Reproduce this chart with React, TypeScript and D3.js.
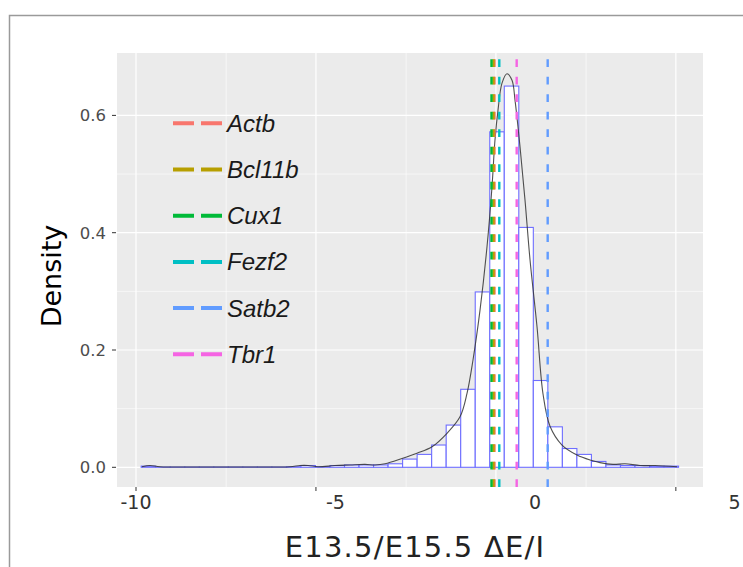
import React from 'react';
import * as d3 from 'd3';

// ---- data ----
const genes = ['Actb', 'Bcl11b', 'Cux1', 'Fezf2', 'Satb2', 'Tbr1'];
const geneColors = ['#F8766D', '#B79F00', '#00BA38', '#00BFC4', '#619CFF', '#F564E3'];
const geneValues = [-1.015, -1.04, -1.09, -0.895, 0.318, -0.459];

const binStart = -9.87;
const binWidth = 0.364;
const binDensity = [
  0.002, 0.0005, 0.0005, 0.0005, 0.0005, 0.0005, 0.0005, 0.0005, 0.0005, 0.0005,
  0.001, 0.003, 0.001, 0.003, 0.004, 0.004, 0.004,
  0.006, 0.014, 0.022, 0.038, 0.072, 0.133, 0.299, 0.572, 0.65, 0.409, 0.148,
  0.069, 0.032, 0.022, 0.01, 0.004,
  0.003, 0.003, 0.002, 0.002,
];

const densX = [
  -9.85, -9.649, -9.398, -8.396, -7.143, -6.14, -5.89, -5.689, -5.439, -5.013,
  -4.637, -4.261, -4.01, -3.759, -3.333, -2.957, -2.581, -2.206, -1.88, -1.704,
  -1.554, -1.378, -1.203, -1.078, -1.003, -0.927, -0.827, -0.702, -0.576, -0.501,
  -0.376, -0.251, -0.125, 0.05, 0.201, 0.376, 0.677, 1.053, 1.404, 1.629, 1.955,
  2.256, 2.632, 3.008, 3.559,
];
const densY = [
  0.001, 0.003, 0.001, 0.0005, 0.0005, 0.001, 0.003, 0.003, 0.001, 0.003,
  0.004, 0.005, 0.004, 0.006, 0.015, 0.024, 0.035, 0.058, 0.086, 0.126,
  0.183, 0.268, 0.376, 0.478, 0.558, 0.609, 0.655, 0.671, 0.66, 0.626,
  0.547, 0.456, 0.354, 0.24, 0.125, 0.07, 0.038, 0.021, 0.012, 0.008, 0.005,
  0.006, 0.003, 0.003, 0.001,
];

const xTickLabels = [-10, -5, 0, 5];
const xGridMajor = [-10, -5.49, -0.98, 3.53];
const xGridMinor = [-7.74, -3.23, 1.28];
const xTickMarks = [-10, -5.49, 3.53];
const yTicks = [0, 0.2, 0.4, 0.6];
const yMinor = [0.1, 0.3, 0.5];

const W = 743;
const H = 567;
const panel = { left: 117, right: 703, top: 53, bottom: 487 };

export default function App() {
  const x = d3.scaleLinear().domain([-10, 5]).range([136, 734.5]);
  const y = d3.scaleLinear().domain([0, 0.6]).range([467.3, 115.4]);

  const bins = binDensity.map((d, i) => ({
    x0: binStart + i * binWidth,
    x1: binStart + (i + 1) * binWidth,
    d,
  }));

  const line = d3
    .line<number>()
    .x((_, i) => x(densX[i]))
    .y((v) => y(v))
    .curve(d3.curveCatmullRom.alpha(0.5));

  const legendY = d3.scalePoint<string>().domain(genes).range([123.3, 354.3]);
  const axisFont = 'DejaVu Sans, Verdana, sans-serif';

  return (
    <svg
      width={W}
      height={H}
      style={{ position: 'absolute', left: 0, top: 0, background: '#fff' }}
    >
      {/* outer frame */}
      <path d={`M9.5,${H} L9.5,15.5 L${W},15.5`} fill="none" stroke="#9a9a9a" strokeWidth={1.5} />

      {/* panel */}
      <rect
        x={panel.left}
        y={panel.top}
        width={panel.right - panel.left}
        height={panel.bottom - panel.top}
        fill="#EBEBEB"
      />
      {yMinor.map((v) => (
        <line key={'ym' + v} x1={panel.left} x2={panel.right} y1={y(v)} y2={y(v)} stroke="#fff" strokeWidth={0.6} />
      ))}
      {xGridMinor.map((v) => (
        <line key={'xm' + v} x1={x(v)} x2={x(v)} y1={panel.top} y2={panel.bottom} stroke="#fff" strokeWidth={0.6} />
      ))}
      {yTicks.map((v) => (
        <line key={'yg' + v} x1={panel.left} x2={panel.right} y1={y(v)} y2={y(v)} stroke="#fff" strokeWidth={1.2} />
      ))}
      {xGridMajor.map((v) => (
        <line key={'xg' + v} x1={x(v)} x2={x(v)} y1={panel.top} y2={panel.bottom} stroke="#fff" strokeWidth={1.2} />
      ))}

      {/* histogram */}
      {bins.map((b, i) => (
        <rect
          key={'b' + i}
          x={x(b.x0)}
          y={y(b.d)}
          width={x(b.x1) - x(b.x0)}
          height={y(0) - y(b.d)}
          fill="#fff"
          stroke="#6E6EFF"
          strokeWidth={1.1}
        />
      ))}

      {/* density curve */}
      <path d={line(densY) || ''} fill="none" stroke="#333" strokeOpacity={0.85} strokeWidth={1.1} />

      {/* vertical dashed lines */}
      {genes.map((g, i) => (
        <line
          key={'v' + g}
          x1={x(geneValues[i])}
          x2={x(geneValues[i])}
          y1={panel.bottom}
          y2={panel.top}
          stroke={geneColors[i]}
          strokeWidth={2.4}
          strokeDasharray="7.7 9.8"
        />
      ))}

      {/* legend */}
      {genes.map((g, i) => (
        <g key={'l' + g}>
          <line
            x1={173}
            x2={222}
            y1={legendY(g)}
            y2={legendY(g)}
            stroke={geneColors[i]}
            strokeWidth={4}
            strokeDasharray="21 7"
          />
          <text
            x={227}
            y={legendY(g)}
            dy="0.35em"
            fontFamily="Liberation Sans, Arial, sans-serif"
            fontStyle="italic"
            fontSize={24}
            fill="#1a1a1a"
          >
            {g}
          </text>
        </g>
      ))}

      {/* y axis */}
      {yTicks.map((v) => (
        <g key={'yt' + v}>
          <line x1={112} x2={116} y1={y(v)} y2={y(v)} stroke="#333" strokeWidth={1} />
          <text
            x={106}
            y={y(v)}
            dy="0.36em"
            textAnchor="end"
            fontFamily={axisFont}
            fontSize={16.5}
            fill="#4D4D4D"
          >
            {v.toFixed(1)}
          </text>
        </g>
      ))}
      <text
        transform={`translate(61,${(panel.top + panel.bottom) / 2 + 6}) rotate(-90)`}
        textAnchor="middle"
        fontFamily={axisFont}
        fontSize={27}
        fill="#000"
      >
        Density
      </text>

      {/* x axis */}
      {xTickMarks.map((v) => (
        <line key={'xt' + v} x1={x(v)} x2={x(v)} y1={panel.bottom} y2={panel.bottom + 4} stroke="#333" strokeWidth={1} />
      ))}
      {xTickLabels.map((v) => (
        <text
          key={'xl' + v}
          x={x(v)}
          y={509}
          textAnchor="middle"
          fontFamily={axisFont}
          fontSize={19}
          fill="#333"
        >
          {v}
        </text>
      ))}
      <text
        x={415}
        y={557}
        textAnchor="middle"
        fontFamily={axisFont}
        fontSize={29}
        letterSpacing={1.2}
        fill="#222"
      >
        E13.5/E15.5 ΔE/I
      </text>
    </svg>
  );
}
